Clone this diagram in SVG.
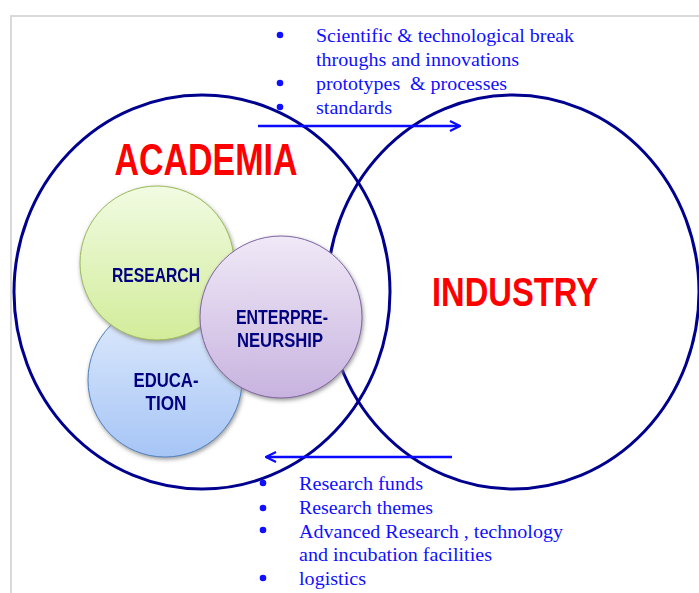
<svg xmlns="http://www.w3.org/2000/svg" width="699" height="593" viewBox="0 0 699 593">
<style>
.big{fill:none;stroke:#00008f;stroke-width:3}
.lbl{font-family:"Liberation Sans Narrow","Liberation Sans",Arial,sans-serif;font-weight:bold;fill:#000080;text-anchor:middle}
.title{font-family:"Liberation Sans Narrow","Liberation Sans",Arial,sans-serif;font-weight:bold;fill:#ff0000;text-anchor:middle}
.bt{font-family:"Liberation Serif","Times New Roman",serif;font-size:18.5px;fill:#1010ff}
.dot{fill:#1010ff}
.arr{stroke:#0a0aff;stroke-width:2.5;fill:none;marker-end:url(#ah)}
</style>
<defs>
<marker id="ah" viewBox="0 0 12 12" refX="11" refY="6" markerWidth="12" markerHeight="12" markerUnits="userSpaceOnUse" orient="auto">
<path d="M1,1 L11,6 L1,11" fill="none" stroke="#0a0aff" stroke-width="2.2"/>
</marker>
<linearGradient id="gR" x1="0" y1="0" x2="0" y2="1"><stop offset="0" stop-color="#f1fbe2"/><stop offset="1" stop-color="#d2ec9a"/></linearGradient>
<linearGradient id="gE" x1="0" y1="0" x2="0" y2="1"><stop offset="0" stop-color="#e0ebfc"/><stop offset="1" stop-color="#a6c5f6"/></linearGradient>
<linearGradient id="gN" x1="0" y1="0" x2="0" y2="1"><stop offset="0" stop-color="#f0e9f7"/><stop offset="1" stop-color="#c8b3df"/></linearGradient>
<filter id="sh" x="-20%" y="-20%" width="140%" height="140%">
<feGaussianBlur in="SourceAlpha" stdDeviation="2.2"/>
<feOffset dx="1" dy="2" result="b"/>
<feFlood flood-color="#808080" flood-opacity="0.8"/>
<feComposite in2="b" operator="in" result="s"/>
<feMerge><feMergeNode in="s"/><feMergeNode in="SourceGraphic"/></feMerge>
</filter>
</defs>
<rect width="699" height="593" fill="#ffffff"/>
<path d="M11,593 L11,16 L699,16" fill="none" stroke="#d9d9d9" stroke-width="2"/>

<g id="academia">
<ellipse class="big" cx="202" cy="292" rx="188" ry="197"/>
<text class="title" x="206" y="175" font-size="44" textLength="183" lengthAdjust="spacingAndGlyphs">ACADEMIA</text>
</g>
<g id="industry">
<ellipse class="big" cx="513" cy="292" rx="186" ry="197"/>
<text class="title" x="515" y="306" font-size="40" textLength="166" lengthAdjust="spacingAndGlyphs">INDUSTRY</text>
</g>

<g id="education" filter="url(#sh)">
<circle cx="165" cy="380" r="77" fill="url(#gE)" stroke="#4f81bd" stroke-width="1"/>
<text class="lbl" x="166" y="387" font-size="20.5" textLength="65" lengthAdjust="spacingAndGlyphs">EDUCA-</text>
<text class="lbl" x="166" y="410" font-size="20.5" textLength="41" lengthAdjust="spacingAndGlyphs">TION</text>
</g>
<g id="research" filter="url(#sh)">
<circle cx="157" cy="263" r="77" fill="url(#gR)" stroke="#9bbb59" stroke-width="1"/>
<text class="lbl" x="156" y="282" font-size="20.5" textLength="88" lengthAdjust="spacingAndGlyphs">RESEARCH</text>
</g>
<g id="entrepreneurship" filter="url(#sh)">
<circle cx="281" cy="317" r="81" fill="url(#gN)" stroke="#8064a2" stroke-width="1"/>
<text class="lbl" x="282" y="324" font-size="20.5" textLength="92" lengthAdjust="spacingAndGlyphs">ENTERPRE-</text>
<text class="lbl" x="280" y="347" font-size="20.5" textLength="86" lengthAdjust="spacingAndGlyphs">NEURSHIP</text>
</g>

<g id="connectors">
<line class="arr" x1="258" y1="126" x2="460" y2="126"/>
<line class="arr" x1="452" y1="457" x2="266" y2="457"/>
</g>

<g id="top-list">
<circle class="dot" cx="280" cy="35" r="3.3"/>
<circle class="dot" cx="280" cy="83" r="3.3"/>
<circle class="dot" cx="280" cy="107" r="3.3"/>
<text class="bt" x="316" y="42" textLength="258" lengthAdjust="spacingAndGlyphs">Scientific &amp; technological break</text>
<text class="bt" x="316" y="66" textLength="203" lengthAdjust="spacingAndGlyphs">throughs and innovations</text>
<text class="bt" x="316" y="90" textLength="191" lengthAdjust="spacingAndGlyphs" xml:space="preserve">prototypes  &amp; processes</text>
<text class="bt" x="316" y="114" textLength="76" lengthAdjust="spacingAndGlyphs">standards</text>
</g>

<g id="bottom-list">
<circle class="dot" cx="263" cy="483" r="3.3"/>
<circle class="dot" cx="263" cy="508" r="3.3"/>
<circle class="dot" cx="263" cy="530" r="3.3"/>
<circle class="dot" cx="263" cy="578" r="3.3"/>
<text class="bt" x="299" y="490" textLength="124" lengthAdjust="spacingAndGlyphs">Research funds</text>
<text class="bt" x="299" y="514" textLength="134" lengthAdjust="spacingAndGlyphs">Research themes</text>
<text class="bt" x="299" y="538" textLength="264" lengthAdjust="spacingAndGlyphs">Advanced Research , technology</text>
<text class="bt" x="299" y="561" textLength="193" lengthAdjust="spacingAndGlyphs">and incubation facilities</text>
<text class="bt" x="299" y="585" textLength="67" lengthAdjust="spacingAndGlyphs">logistics</text>
</g>
</svg>
